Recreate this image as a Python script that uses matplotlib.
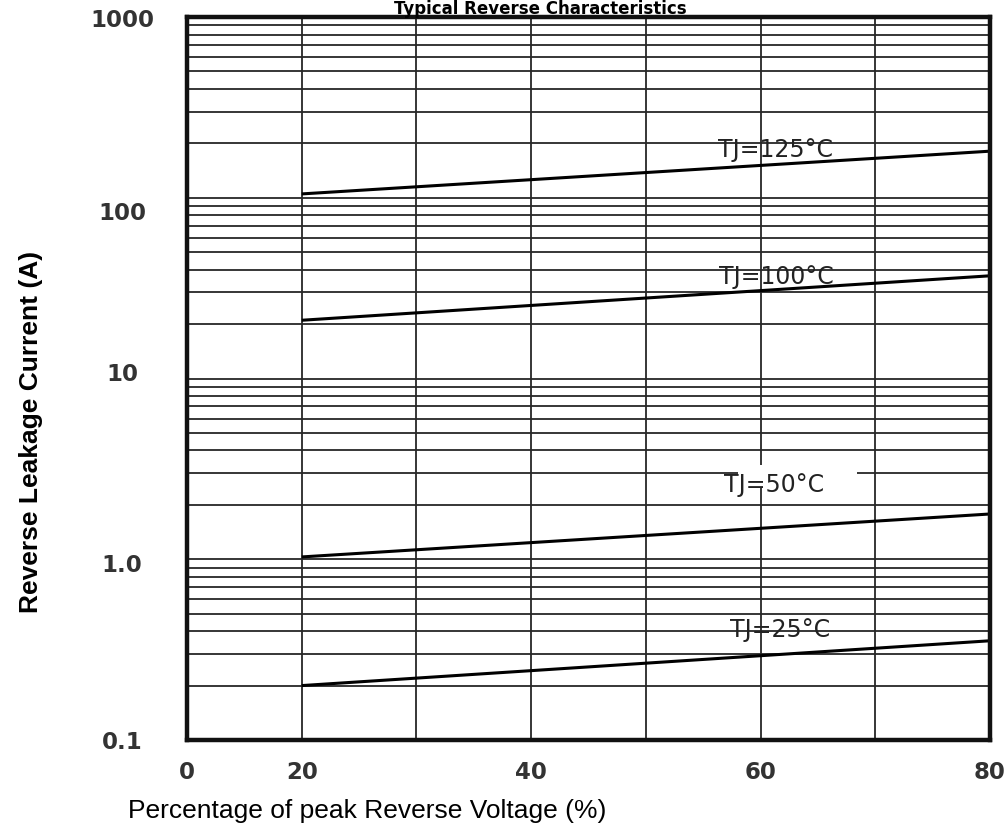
import matplotlib
matplotlib.use("Agg")
import matplotlib.pyplot as plt
import matplotlib.ticker as mticker
import matplotlib.transforms as mtransforms
from matplotlib.patches import Rectangle
import numpy as np

# ---------------- data ----------------
voltage_pct = [20, 80]
curve_labels = ["TJ=125°C", "TJ=100°C", "TJ=50°C", "TJ=25°C"]
leak_125 = [105, 181]
leak_100 = [21, 37]
leak_50 = [1.03, 1.78]
leak_25 = [0.20, 0.354]

xtick_values = [10, 20, 40, 60, 80]
xtick_labels = ["0", "20", "40", "60", "80"]
ytick_values = [0.1, 1, 10, 100, 1000]
ytick_labels = ["0.1", "1.0", "10", "100", "1000"]

# label placement (data coords) and small per-label pixel nudges
label_pos = [(61.26, 184.8), (61.35, 36.65), (61.17, 2.574), (61.7, 0.4063)]
ytick_nudge_px = [0, 4, -6, 13, 1]

# ---------------- figure ----------------
W, H = 1008, 836
fig = plt.figure(figsize=(W / 100, H / 100), dpi=100)
ax = fig.add_axes([187 / W, 1 - 740 / H, 803 / W, 723 / H])
ax.set_yscale("log")
ax.set_xlim(10, 80)
ax.set_ylim(0.1, 1000)
ax.set_axisbelow(True)

ax.xaxis.set_major_locator(mticker.FixedLocator(xtick_values))
ax.xaxis.set_major_formatter(mticker.FixedFormatter(xtick_labels))
ax.xaxis.set_minor_locator(mticker.FixedLocator([30, 50, 70]))
ax.yaxis.set_major_locator(mticker.FixedLocator(ytick_values))
ax.yaxis.set_major_formatter(mticker.FixedFormatter(ytick_labels))
ax.yaxis.set_minor_locator(mticker.LogLocator(base=10, subs=np.arange(2, 10)))
ax.yaxis.set_minor_formatter(mticker.NullFormatter())

ax.grid(which="both", color="#262626", linewidth=1.3)
ax.tick_params(which="both", length=0)
ax.tick_params(axis="x", pad=15)
ax.tick_params(axis="y", pad=46.8)
for lab in ax.get_xticklabels() + ax.get_yticklabels():
    lab.set_fontfamily("DejaVu Sans")
    lab.set_fontweight("bold")
    lab.set_fontsize(16.5)
    lab.set_color("#333333")
for lab in ax.get_yticklabels():
    lab.set_horizontalalignment("center")

for sp in ax.spines.values():
    sp.set_linewidth(3.2)
    sp.set_color("#111111")

# curves
for vals in (leak_125, leak_100, leak_50, leak_25):
    ax.plot(voltage_pct, vals, color="black", linewidth=2.2, solid_capstyle="butt", zorder=2)

# white patch behind the 50C label (grid interrupted there)
ax.add_patch(Rectangle((0.686, 0.3485), 0.148, 0.0318, transform=ax.transAxes,
                       facecolor="white", edgecolor="none", zorder=1.5))

fig.canvas.draw()

# nudge y tick labels
for lab, dy in zip(ax.get_yticklabels(), ytick_nudge_px):
    off = mtransforms.ScaledTranslation(0, -dy / 100.0, fig.dpi_scale_trans)
    lab.set_transform(lab.get_transform() + off)

# curve labels
for lab, (x, y) in zip(curve_labels, label_pos):
    ax.text(x, y, lab, ha="center", va="center", fontsize=17,
            family="DejaVu Sans", color="#222222", zorder=4)

# axis titles and chart title
fig.text(31 / W, 1 - 432 / H, "Reverse Leakage Current (A)", rotation=90,
         ha="center", va="center", fontsize=19, fontweight="bold",
         family="Liberation Sans", color="black")
fig.text(128 / W, 1 - 811 / H, "Percentage of peak Reverse Voltage (%)",
         ha="left", va="center", fontsize=19, family="Liberation Sans", color="black")
fig.text(540 / W, 1 - 14 / H, "Typical Reverse Characteristics", ha="center",
         va="baseline", fontsize=12, fontweight="bold", family="DejaVu Sans", color="black")

fig.savefig("out.png", dpi=100)
